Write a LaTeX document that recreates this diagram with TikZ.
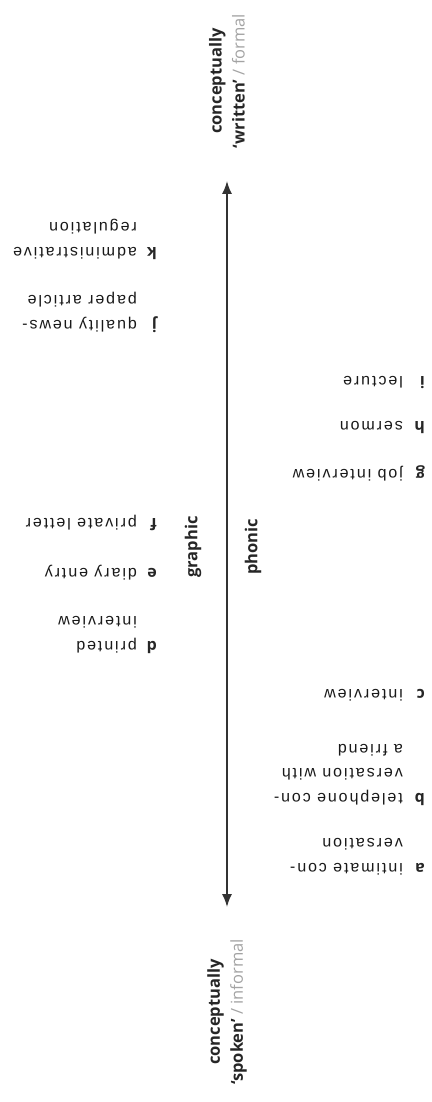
\documentclass[tikz,border=0pt]{standalone}
\usepackage{fontspec}
\setmainfont{Liberation Sans}
\newfontfamily\bodyfont[LetterSpace=12]{Liberation Sans}
\newfontfamily\boldfont{Open Sans}
\usetikzlibrary{arrows.meta}
\definecolor{axiscol}{HTML}{333333}
\definecolor{lightgrey}{HTML}{A3A3A3}
\begin{document}
\begin{tikzpicture}[x=1pt,y=-1pt,
  itemtxt/.style={inner sep=0pt, anchor=base west, rotate=180, align=left,
     font=\bodyfont\fontsize{16}{24.5}\selectfont, text=black!90},
  itemlet/.style={inner sep=0pt, anchor=base west, rotate=180,
     font=\boldfont\bfseries\fontsize{16}{20}\selectfont, text=black!85},
  medium/.style={inner sep=0pt, rotate=90,
     font=\boldfont\bfseries\fontsize{16.5}{20}\selectfont, text=black!85},
  endlabel/.style={inner sep=0pt, rotate=90, align=center,
     font=\boldfont\fontsize{16.5}{23}\selectfont, text=black!85},
  axis/.style={draw=axiscol, line width=1.6pt, {Latex[length=13pt,width=10pt]}-{Latex[length=13pt,width=10pt]}}
]
\useasboundingbox (0,0) rectangle (431,1102);
% end labels
\node[endlabel] (top) at (227,81) {\bfseries conceptually\\\bfseries ‘written’\mdseries\ \textcolor{lightgrey}{/ formal}};
\node[endlabel] (bot) at (227,1012) {\bfseries conceptually\\\bfseries ‘spoken’\mdseries\ \textcolor{lightgrey}{/ informal}};
% axis
\coordinate (atop) at (227,181);
\coordinate (abot) at (227,907);
\draw[axis] (atop) -- (abot);
% medium labels
\node[medium] (graphic) at (193,547) {graphic};
\node[medium] (phonic) at (253,547) {phonic};
% phonic items (multi-line nodes are anchored at the baseline of their last line)
\node[itemlet] (la) at (425,863) {a};
\node[itemtxt] (ta) at (403,838.5) {intimate con-\\versation};
\node[itemlet] (lb) at (425,793) {b};
\node[itemtxt] (tb) at (403,744) {telephone con-\\versation with\\a friend};
\node[itemlet] (lc) at (425,689) {c};
\node[itemtxt] (tc) at (403,689) {interview};
\node[itemlet] (lg) at (425,469) {g};
\node[itemtxt] (tg) at (403,469) {job interview};
\node[itemlet] (lh) at (425,421) {h};
\node[itemtxt] (th) at (403,421) {sermon};
\node[itemlet] (li) at (425,376) {i};
\node[itemtxt] (ti) at (403,376) {lecture};
% graphic items
\node[itemlet] (ld) at (157,641) {d};
\node[itemtxt] (td) at (137,616.5) {printed\\interview};
\node[itemlet] (le) at (157,568) {e};
\node[itemtxt] (te) at (137,568) {diary entry};
\node[itemlet] (lf) at (157,518) {f};
\node[itemtxt] (tf) at (137,518) {private letter};
\node[itemlet] (lj) at (157,320) {j};
\node[itemtxt] (tj) at (137,295.5) {quality news-\\paper article};
\node[itemlet] (lk) at (157,247) {k};
\node[itemtxt] (tk) at (137,222.5) {administrative\\regulation};
\end{tikzpicture}
\end{document}
